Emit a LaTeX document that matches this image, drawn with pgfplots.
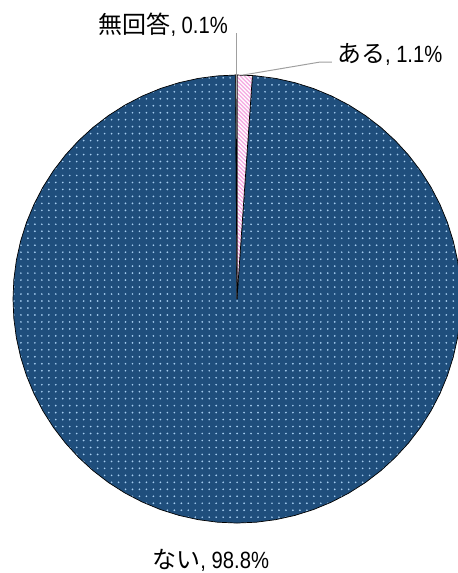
\documentclass[border=0pt]{standalone}
\usepackage{pgfplots}
\pgfplotsset{compat=1.18}
\usepackage{pgfplotstable}
\usepackage{graphicx}
\usepackage{fontspec}
\setmainfont{Liberation Sans}
\newfontfamily\cjk{Noto Sans CJK JP}
\usetikzlibrary{patterns}

\definecolor{pieblue}{RGB}{31,78,124}
\definecolor{dotblue}{RGB}{165,205,240}
\definecolor{pinkc}{RGB}{245,170,225}
\definecolor{leader}{RGB}{160,160,160}

\pgfdeclarepatternformonly{mydots}{\pgfqpoint{-1.5pt}{-1.5pt}}{\pgfqpoint{1.5pt}{1.5pt}}{\pgfqpoint{7pt}{7pt}}{\pgfpathcircle{\pgfqpoint{0pt}{0pt}}{0.95pt}\pgfusepath{fill}}
\pgfdeclarepatternformonly{pinklines}{\pgfqpoint{-1pt}{-1pt}}{\pgfqpoint{5pt}{5pt}}{\pgfqpoint{4pt}{4pt}}{\pgfsetlinewidth{1.3pt}\pgfpathmoveto{\pgfqpoint{0pt}{4pt}}\pgfpathlineto{\pgfqpoint{4.1pt}{-0.1pt}}\pgfusepath{stroke}}

\newcommand\lab[2]{{\cjk\fontsize{24bp}{26bp}\selectfont #1}\scalebox{0.86}[1]{\fontsize{23.5bp}{26bp}\selectfont, #2}}

% slices: ある 1.1%, ない 98.8%, 無回答 0.1% (clockwise from 12 o'clock)
\pgfplotstableread{
ang r
0 0
90 1
86.04 1
0 0
}\aru
\pgfplotstableread{
ang r
0 0
86.04 1
85 1
80 1
75 1
70 1
65 1
60 1
55 1
50 1
45 1
40 1
35 1
30 1
25 1
20 1
15 1
10 1
5 1
0 1
-5 1
-10 1
-15 1
-20 1
-25 1
-30 1
-35 1
-40 1
-45 1
-50 1
-55 1
-60 1
-65 1
-70 1
-75 1
-80 1
-85 1
-90 1
-95 1
-100 1
-105 1
-110 1
-115 1
-120 1
-125 1
-130 1
-135 1
-140 1
-145 1
-150 1
-155 1
-160 1
-165 1
-170 1
-175 1
-180 1
-185 1
-190 1
-195 1
-200 1
-205 1
-210 1
-215 1
-220 1
-225 1
-230 1
-235 1
-240 1
-245 1
-250 1
-255 1
-260 1
-265 1
-269.64 1
0 0
}\nai
\pgfplotstableread{
ang r
0 0
-269.64 1
-270 1
0 0
}\mukaito

\begin{document}
\begin{tikzpicture}
\begin{axis}[scale only axis, width=458bp, height=573bp,
  xmin=-1.058, xmax=0.987, ymin=-1.223, ymax=1.335, hide axis]
\addplot[fill=pieblue, draw=none, data cs=polar] table[x=ang,y=r]{\nai};
\addplot[pattern=mydots, pattern color=dotblue, draw=none, data cs=polar] table[x=ang,y=r]{\nai};
\addplot[draw=black, line width=0.7bp, data cs=polar] table[x=ang,y=r]{\nai};
\addplot[fill=white, draw=none, data cs=polar] table[x=ang,y=r]{\aru};
\addplot[pattern=pinklines, pattern color=pinkc, draw=none, data cs=polar] table[x=ang,y=r]{\aru};
\addplot[draw=black, line width=0.7bp, data cs=polar] table[x=ang,y=r]{\aru};
\addplot[fill=white, draw=black, line width=0.6bp, data cs=polar] table[x=ang,y=r]{\mukaito};
% leader lines
\addplot[color=leader, line width=1bp] coordinates {(0,1.1875) (0,0.991)};
\addplot[color=leader, line width=1bp] coordinates {(0.027,1.0) (0.371,1.058) (0.424,1.058)};
\node[anchor=base east, inner sep=0pt] at (axis cs:-0.040,1.1875) {\lab{無回答}{0.1\%}};
\node[anchor=base west, inner sep=0pt] at (axis cs:0.446,1.054) {\lab{ある}{1.1\%}};
\node[anchor=base west, inner sep=0pt] at (axis cs:-0.378,-1.201) {\lab{ない}{98.8\%}};
\coordinate (SW) at (rel axis cs:0,0);
\coordinate (NE) at (rel axis cs:1,1);
\end{axis}
\pgfresetboundingbox
\path[use as bounding box] (SW) rectangle (NE);
\end{tikzpicture}
\end{document}
